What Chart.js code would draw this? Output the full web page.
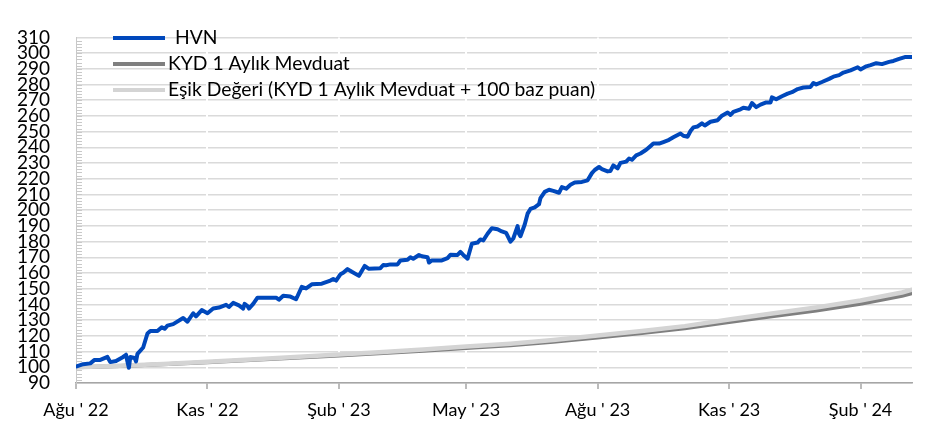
<!DOCTYPE html>
<html>
<head>
<meta charset="utf-8">
<script src="https://cdn.jsdelivr.net/npm/chart.js@4/dist/chart.umd.min.js"></script>
<style>
  html, body { margin: 0; padding: 0; background: #fff; }
  #wrap { width: 928px; height: 430px; }
</style>
</head>
<body>
<div id="wrap"><canvas id="LineChart" width="928" height="430"></canvas></div>
<script>
// x values are days counted from 1 Aug 2022
const tickDays = [0, 92, 184, 273, 365, 457, 549];
const tickLabels = ["Ağu ' 22", "Kas ' 22", "Şub ' 23", "May ' 23", "Ağu ' 23", "Kas ' 23", "Şub ' 24"];
const seriesNames = ['HVN', 'KYD 1 Aylık Mevduat', 'Eşik Değeri (KYD 1 Aylık Mevduat + 100 baz puan)'];

const hvnDays = [0, 5, 10, 13, 17, 22, 24, 28, 33, 35, 36, 37, 38, 41, 42, 43, 47, 50, 52, 57,
  60, 62, 64, 68, 75, 78, 82, 84, 88, 92, 96, 100, 105, 107, 110, 114, 117, 118, 120, 121,
  124, 127, 140, 142, 145, 150, 154, 158, 161, 165, 172, 175, 178, 180, 182, 185, 187, 190, 193, 198,
  202, 205, 213, 215, 217, 220, 225, 227, 232, 234, 236, 240, 242, 246, 247, 249, 256, 260, 262, 267,
  269, 271, 274, 277, 281, 283, 285, 288, 291, 295, 298, 301, 304, 306, 309, 310, 311, 314, 316, 318,
  321, 324, 325, 328, 331, 334, 338, 340, 343, 346, 349, 354, 358, 361, 363, 366, 368, 372, 374, 376,
  379, 381, 385, 387, 389, 392, 395, 399, 402, 404, 408, 411, 415, 418, 423, 425, 428, 430, 432, 435,
  438, 440, 444, 449, 452, 456, 458, 460, 465, 467, 471, 473, 476, 479, 483, 486, 487, 490, 494, 498,
  501, 505, 509, 514, 516, 518, 522, 527, 530, 534, 537, 542, 547, 549, 553, 556, 560, 564, 569, 572,
  576, 580, 585];
const hvnValues = [100.5, 102, 102.5, 104.7, 104.7, 106.6, 103.3, 104, 106.6, 108, 103.7, 99.7, 106.6, 106, 103.7, 108.6, 112.6, 121.5, 123.1, 123.1,
  125.5, 124.5, 126.5, 127.5, 131.4, 129, 134.4, 132.4, 136.4, 134.4, 137.4, 138, 139.8, 138.4, 141, 139.4, 137.4, 140.4, 139, 137.4,
  140.4, 144.3, 144.3, 143, 145.5, 145, 143.3, 151.2, 150.2, 152.8, 153.2, 154.2, 155.2, 156.2, 155.2, 159.2, 160.2, 162.5, 160.8, 158.2,
  164.5, 162.7, 163.1, 165.1, 165, 165.5, 165.5, 168, 168.5, 170.1, 169.1, 171.5, 170.7, 170.1, 166.7, 168, 168, 169.5, 171.6, 171.5,
  173.4, 171.5, 169.1, 178.6, 179.4, 181.4, 180.8, 185, 188.5, 187.9, 186.5, 185.5, 180, 182, 189.9, 185, 183.4, 190.9, 197.8, 200.8,
  201.8, 203.8, 207.7, 211.7, 213, 212.3, 211.1, 214.7, 213.7, 216.2, 217.6, 218, 219, 223.6, 225.6, 227.5, 226.2, 224.7, 225, 228.5,
  226.6, 230.1, 230.9, 232.9, 232.1, 234.9, 236.1, 238.5, 240.8, 242.4, 242.4, 243.4, 244.8, 246.4, 248.8, 247.4, 246.8, 250.4, 252.7, 253.3,
  255.3, 253.9, 256.3, 257.3, 260.2, 262.2, 260.6, 262.6, 264.2, 265.2, 264.6, 268.2, 265.6, 267.2, 268.6, 268.6, 271.8, 270.6, 272.5, 274.2,
  275.1, 277.1, 278.1, 278.5, 281, 280.1, 281.6, 283.6, 285, 286, 287.6, 289, 291, 289.6, 291.6, 292.4, 293.6, 293, 294.4, 295,
  296.3, 297.5, 297.5];

const rateDays = [0, 31, 61, 92, 122, 153, 184, 212, 243, 273, 304, 334, 365, 396, 426, 457, 487, 518, 549, 578, 585];
const kydValues = [100, 100.9, 101.9, 103.2, 104.6, 106, 107.5, 108.9, 110.5, 112.3, 114, 116.2, 119, 121.8, 124.8, 128.8, 132.5, 136.2, 140.5, 145.5, 147.2];
const esikValues = [100, 101, 102.1, 103.5, 105, 106.5, 108.1, 109.6, 111.3, 113.2, 115, 117.3, 120.2, 123.1, 126.2, 130.4, 134.2, 138.1, 142.5, 147.6, 149.4];

const toPoints = (xs, ys) => xs.map((x, i) => ({ x: x, y: ys[i] }));

const FONT = 'Lato, "Open Sans", sans-serif';

// short inside ticks on the value axis (every 2 units)
const minorTicks = {
  id: 'minorTicks',
  beforeDatasetsDraw(chart) {
    const ctx = chart.ctx, y = chart.scales.y, left = chart.chartArea.left;
    ctx.save();
    ctx.strokeStyle = '#c8c8c8';
    ctx.lineWidth = 1;
    for (let v = 92; v < 310; v += 2) {
      const py = Math.round(y.getPixelForValue(v)) + 0.5;
      ctx.beginPath();
      ctx.moveTo(left + 1, py);
      ctx.lineTo(left + 6, py);
      ctx.stroke();
    }
    ctx.restore();
  }
};

// legend drawn inside the plot, top left, no box
const insideLegend = {
  id: 'insideLegend',
  afterDraw(chart) {
    const ctx = chart.ctx;
    const rows = [38, 64, 90];
    const textX = [175, 168, 168];
    ctx.save();
    ctx.font = '19.3px ' + FONT;
    ctx.textBaseline = 'middle';
    ctx.fillStyle = '#000';
    chart.data.datasets.forEach((ds, i) => {
      ctx.strokeStyle = ds.borderColor;
      ctx.lineWidth = 4;
      ctx.beginPath();
      ctx.moveTo(113, rows[i]);
      ctx.lineTo(165, rows[i]);
      ctx.stroke();
      ctx.fillText(ds.label, textX[i], rows[i]);
    });
    ctx.restore();
  }
};

const ctx = document.getElementById('LineChart').getContext('2d');
const lineChart = new Chart(ctx, {
  type: 'line',
  data: {
    datasets: [
      { label: seriesNames[0], data: toPoints(hvnDays, hvnValues), borderColor: '#0048bc', borderWidth: 4, order: 0 },
      { label: seriesNames[1], data: toPoints(rateDays, kydValues), borderColor: '#7f7f7f', borderWidth: 4, order: 2 },
      { label: seriesNames[2], data: toPoints(rateDays, esikValues), borderColor: '#d4d4d4', borderWidth: 4.5, order: 1 }
    ]
  },
  options: {
    responsive: false,
    animation: false,
    layout: { padding: { top: 13, right: 16, left: 0, bottom: 0 } },
    elements: {
      point: { radius: 0 },
      line: { tension: 0, borderJoinStyle: 'round', borderCapStyle: 'round' }
    },
    plugins: {
      legend: { display: false },
      tooltip: { enabled: false }
    },
    scales: {
      x: {
        type: 'linear',
        min: 0,
        max: 585,
        afterBuildTicks: (scale) => { scale.ticks = tickDays.map(v => ({ value: v })); },
        afterFit: (scale) => { scale.height = 47; },
        ticks: {
          autoSkip: false,
          maxRotation: 0,
          padding: 10,
          color: '#000',
          font: { family: FONT, size: 18 },
          callback: (value) => tickLabels[tickDays.indexOf(value)]
        },
        grid: { color: '#ffffff', lineWidth: 2, tickColor: '#a6a6a6', tickLength: 6, tickWidth: 1.5 },
        border: { color: '#a6a6a6', width: 1.5 }
      },
      y: {
        min: 90,
        max: 310,
        afterFit: (scale) => { scale.width = 76; },
        ticks: {
          stepSize: 10,
          autoSkip: false,
          padding: 26,
          color: '#000',
          font: { family: FONT, size: 19 }
        },
        grid: { color: '#dadada', lineWidth: 1.5, drawTicks: false, z: -2 },
        border: { color: '#c8c8c8', width: 1 }
      }
    }
  },
  plugins: [minorTicks, insideLegend]
});
</script>
</body>
</html>
